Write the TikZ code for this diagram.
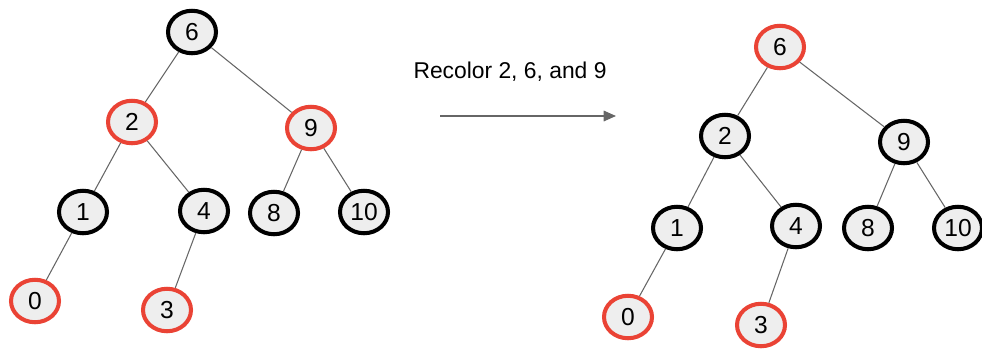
\documentclass[tikz,border=0pt]{standalone}
\usepackage{fontspec}
\setmainfont{Liberation Sans}
\usetikzlibrary{shapes.geometric,arrows.meta}

\definecolor{rbred}{RGB}{234,67,53}
\definecolor{rbfill}{RGB}{238,238,238}
\definecolor{edgegray}{RGB}{102,102,102}

\begin{document}
\begin{tikzpicture}[x=0.02cm,y=-0.02cm,
    vertex/.style={ellipse,draw,line width=2.3pt,fill=rbfill,inner sep=0pt,
        minimum width=0.96cm,minimum height=0.85cm,font=\fontsize{14}{16}\selectfont},
    blk/.style={vertex,draw=black},
    rd/.style={vertex,draw=rbred},
    edge/.style={draw=edgegray,line width=0.6pt}]
        \useasboundingbox (0,0) rectangle (982,349);
        % tree before recoloring
        \node[blk] (a6) at (192,32) {6};
        \node[rd] (a2) at (132,122) {2};
        \node[rd] (a9) at (311,128) {9};
        \node[blk] (a1) at (83,212) {1};
        \node[blk] (a4) at (204,211) {4};
        \node[blk] (a8) at (274,213) {8};
        \node[blk] (a10) at (364,212) {10};
        \node[rd] (a0) at (35,301) {0};
        \node[rd] (a3) at (167,310) {3};
        \draw[edge] (a6) -- (a2);
        \draw[edge] (a6) -- (a9);
        \draw[edge] (a2) -- (a1);
        \draw[edge] (a2) -- (a4);
        \draw[edge] (a9) -- (a8);
        \draw[edge] (a9) -- (a10);
        \draw[edge] (a1) -- (a0);
        \draw[edge] (a4) -- (a3);
        % the step in between
        \coordinate (from) at (440,116);
        \coordinate (to) at (616,116);
        \draw[draw=edgegray,line width=0.9pt,-{Triangle[length=7pt,width=6pt]}] (from) -- (to);
        \node[font=\fontsize{13}{15}\selectfont] (lbl) at (510,72) {Recolor 2, 6, and 9};
        % tree after recoloring
        \node[rd] (b6) at (780,47) {6};
        \node[blk] (b2) at (725,136) {2};
        \node[blk] (b9) at (904,142) {9};
        \node[blk] (b1) at (677,228) {1};
        \node[blk] (b4) at (796,226) {4};
        \node[blk] (b8) at (868,228) {8};
        \node[blk] (b10) at (958,228) {10};
        \node[rd] (b0) at (628,317) {0};
        \node[rd] (b3) at (761,325) {3};
        \draw[edge] (b6) -- (b2);
        \draw[edge] (b6) -- (b9);
        \draw[edge] (b2) -- (b1);
        \draw[edge] (b2) -- (b4);
        \draw[edge] (b9) -- (b8);
        \draw[edge] (b9) -- (b10);
        \draw[edge] (b1) -- (b0);
        \draw[edge] (b4) -- (b3);
\end{tikzpicture}
\end{document}
